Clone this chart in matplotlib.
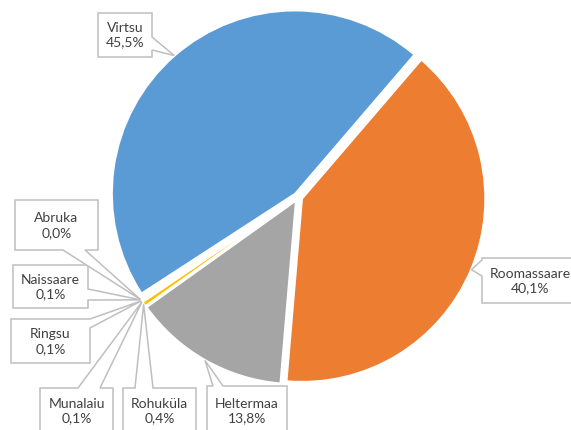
import numpy as np
import matplotlib
matplotlib.use("Agg")
import matplotlib.pyplot as plt
from matplotlib.patches import Polygon

# ---- data ----
categories = ["Virtsu", "Roomassaare", "Heltermaa", "Rohuküla", "Munalaiu", "Ringsu", "Naissaare", "Abruka"]
values = [45.5, 40.1, 13.8, 0.4, 0.1, 0.1, 0.1, 0.0]
value_labels = ["45,5%", "40,1%", "13,8%", "0,4%", "0,1%", "0,1%", "0,1%", "0,0%"]
colors = ["#5B9BD5", "#ED7D31", "#A5A5A5", "#FFC000", "#4472C4", "#70AD47", "#255E91", "#9E480E"]

W, H = 571, 430
plt.rcParams['font.family'] = ['Lato', 'DejaVu Sans']

fig = plt.figure(figsize=(W / 100, H / 100), dpi=100)
ax = fig.add_axes([0, 0, 1, 1])

cx, cy, R = 298, 197, 183
expl = 4.5
wedges, _ = ax.pie(values, colors=colors, startangle=90 - 237, counterclock=False,
                   center=(cx, H - cy), radius=R, explode=[expl] * len(values),
                   wedgeprops=dict(linewidth=1.2, edgecolor='white'), frame=True)
ax.set_xlim(0, W)
ax.set_ylim(0, H)
ax.set_aspect('equal')
ax.axis('off')

# label boxes: (x0, y0, x1, y1) in top-left pixel coords, edge of pointer, base span, text centre y
boxes = {
    "Virtsu":      ((98, 13, 152, 57), 'right', (37, 50), 35),
    "Roomassaare": ((482, 258, 580, 303), 'left', (260, 276), 281),
    "Heltermaa":   ((207, 386, 287, 440), 'top', (213, 223), 411),
    "Rohuküla":    ((123, 388, 196, 440), 'top', (135, 153), 411),
    "Munalaiu":    ((40, 388, 113, 440), 'top', (78, 100), 411),
    "Ringsu":      ((11, 319, 90, 363), 'right', (319, 328), 342),
    "Naissaare":   ((13, 265, 88, 308), 'right', (289, 300), 287),
    "Abruka":      ((15, 200, 98, 250), 'bottom', (63, 85), 226),
}


def callout(rect, edge, base, tip):
    x0, y0, x1, y1 = rect
    b0, b1 = base
    pts = [(x0, y0)]
    if edge == 'top':
        pts += [(b0, y0), tip, (b1, y0)]
    pts += [(x1, y0)]
    if edge == 'right':
        pts += [(x1, b0), tip, (x1, b1)]
    pts += [(x1, y1)]
    if edge == 'bottom':
        pts += [(b1, y1), tip, (b0, y1)]
    pts += [(x0, y1)]
    if edge == 'left':
        pts += [(x0, b1), tip, (x0, b0)]
    return [(px, H - py) for px, py in pts]


for w, cat, lab in zip(wedges, categories, value_labels):
    rect, edge, base, ty = boxes[cat]
    mid = np.deg2rad(0.5 * (w.theta1 + w.theta2))
    wx, wy = w.center
    r = w.r + 0.5
    tip_x = wx + r * np.cos(mid)
    tip_y = H - (wy + r * np.sin(mid))
    poly = Polygon(callout(rect, edge, base, (tip_x, tip_y)), closed=True,
                   facecolor='white', edgecolor='#BFBFBF', linewidth=1.1, zorder=5)
    ax.add_patch(poly)
    tx = 0.5 * (rect[0] + rect[2])
    if cat == "Roomassaare":
        tx = 530
    ax.text(tx, H - ty, f"{cat}\n{lab}", ha='center', va='center', fontsize=10,
            color='#404040', linespacing=1.3, zorder=6)

fig.savefig("out.png", dpi=100)
